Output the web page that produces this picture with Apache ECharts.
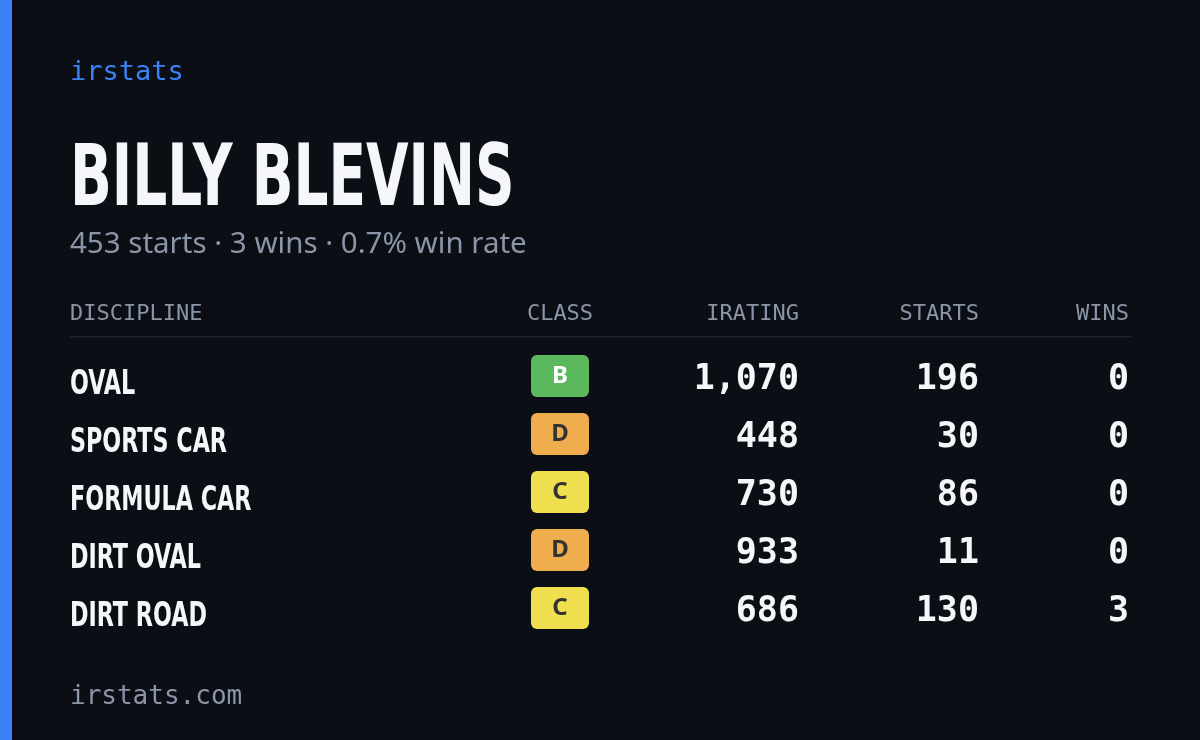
<!DOCTYPE html>
<html><head><meta charset="utf-8">
<script src="https://cdn.jsdelivr.net/npm/echarts@6/dist/echarts.min.js"></script>
<style>html,body{margin:0;background:#0b0e14}#main{width:1200px;height:740px}</style>
</head><body><div id="main"></div>
<script>
var chart = echarts.init(document.getElementById('main'));

const driver = 'BILLY BLEVINS';
const disciplines = ['OVAL', 'SPORTS CAR', 'FORMULA CAR', 'DIRT OVAL', 'DIRT ROAD'];
const classes = ['B', 'D', 'C', 'D', 'C'];
const iratings = [1070, 448, 730, 933, 686];
const starts = [196, 30, 86, 11, 130];
const wins = [0, 0, 0, 0, 3];
const headers = ['DISCIPLINE', 'CLASS', 'IRATING', 'STARTS', 'WINS'];

const classColors = { B: '#5cb85c', C: '#f0e050', D: '#f0ad4e' };
const totalStarts = starts.reduce((a, b) => a + b, 0);
const totalWins = wins.reduce((a, b) => a + b, 0);
const rate = (totalWins / totalStarts * 100).toFixed(1);

const mono = '"DejaVu Sans Mono", monospace';
const narrow = '"Liberation Sans Narrow", "DejaVu Sans Condensed", sans-serif';
const gray = '#8b95a8';

// column anchors: [x, align]
const cols = [[70, 'left'], [560, 'center'], [799, 'right'], [979, 'right'], [1129, 'right']];

var graphic = [
    { type: 'rect', shape: { x: 0, y: 0, width: 12, height: 740 }, style: { fill: '#3b82f6' } },
    { type: 'text', x: 70, y: 73, style: { text: 'irstats', font: '27px ' + mono, fill: '#3b82f6', verticalAlign: 'middle' } },
    { type: 'text', x: 70, y: 183, scaleX: 0.71, style: { text: driver, font: 'bold 86px ' + narrow, fill: '#f5f6fa', verticalAlign: 'middle' } },
    { type: 'text', x: 70, y: 245, style: { text: totalStarts + ' starts · ' + totalWins + ' wins · ' + rate + '% win rate', font: '29.5px "Noto Sans", sans-serif', fill: gray, verticalAlign: 'middle' } },
    { type: 'rect', shape: { x: 70, y: 336, width: 1061, height: 1.5 }, style: { fill: '#1f2430' } },
    { type: 'text', x: 70, y: 697, style: { text: 'irstats.com', font: '26px ' + mono, fill: gray, verticalAlign: 'middle' } }
];
headers.forEach((h, i) => {
    graphic.push({ type: 'text', x: cols[i][0], y: 314, style: { text: h, font: '22px ' + mono, fill: gray, align: cols[i][1], verticalAlign: 'middle' } });
});

chart.setOption({
    backgroundColor: '#0b0e14',
    animation: false,
    graphic: graphic,
    grid: { left: 0, right: 0, top: 351, bottom: 99 },
    xAxis: { type: 'value', min: 0, max: 1200, show: false },
    yAxis: { type: 'category', data: disciplines, inverse: true, show: false },
    series: [{
        type: 'custom',
        data: disciplines.map((d, i) => [0, i]),
        renderItem: function (params, api) {
            var i = api.value(1);
            var y = api.coord([0, i])[1];
            var cls = classes[i];
            return {
                type: 'group',
                children: [
                    { type: 'text', x: 70, y: y + 5, scaleX: 0.75, style: { text: disciplines[i], font: 'bold 33px ' + narrow, fill: '#f5f6fa', verticalAlign: 'middle' } },
                    { type: 'rect', shape: { x: 531, y: y - 25, width: 58, height: 42, r: 6 }, style: { fill: classColors[cls] } },
                    { type: 'text', x: 560, y: y - 4, style: { text: cls, font: 'bold 24px "Noto Sans", sans-serif', fill: cls === 'B' ? '#ffffff' : '#333333', align: 'center', verticalAlign: 'middle' } },
                    { type: 'text', x: 799, y: y, style: { text: iratings[i].toLocaleString('en-US'), font: 'bold 35px ' + mono, fill: '#f5f6fa', align: 'right', verticalAlign: 'middle' } },
                    { type: 'text', x: 979, y: y, style: { text: String(starts[i]), font: 'bold 35px ' + mono, fill: '#f5f6fa', align: 'right', verticalAlign: 'middle' } },
                    { type: 'text', x: 1129, y: y, style: { text: String(wins[i]), font: 'bold 35px ' + mono, fill: '#f5f6fa', align: 'right', verticalAlign: 'middle' } }
                ]
            };
        }
    }]
});
</script></body></html>
